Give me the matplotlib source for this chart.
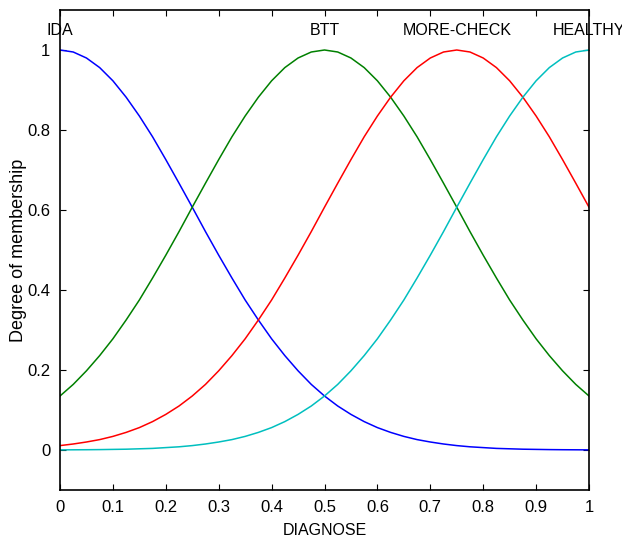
import matplotlib
matplotlib.use("Agg")
import matplotlib.pyplot as plt
import numpy as np

plt.rcParams['font.family'] = ['Liberation Sans', 'DejaVu Sans']

x = np.linspace(0, 1, 41)

ida = [1, .995, .980, .956, .923, .882, .835, .783, .726, .667, .607, .546, .487, .430, .375, .325,
       .278, .236, .198, .164, .135, .110, .089, .071, .056, .044, .034, .026, .020, .015, .011, .008,
       .006, .004, .003, .002, .0015, .001, .0007, .0005, .0003]
btt = [.135, .164, .198, .236, .278, .325, .375, .430, .487, .546, .607, .667, .726, .783, .835, .882,
       .923, .956, .980, .995, 1, .995, .980, .956, .923, .882, .835, .783, .726, .667, .607, .546,
       .487, .430, .375, .325, .278, .236, .198, .164, .135]
more_check = [.011, .015, .020, .026, .034, .044, .056, .071, .089, .110, .135, .164, .198, .236, .278,
              .325, .375, .430, .487, .546, .607, .667, .726, .783, .835, .882, .923, .956, .980, .995,
              1, .995, .980, .956, .923, .882, .835, .783, .726, .667, .607]
healthy = ida[::-1]

names = ["IDA", "BTT", "MORE-CHECK", "HEALTHY"]
peaks = [0, 0.5, 0.75, 1.0]
series = [ida, btt, more_check, healthy]
colors = ["#0000ff", "#008000", "#ff0000", "#00bfbf"]

fig = plt.figure(figsize=(6.22, 5.40), dpi=100)
ax = fig.add_axes([60/622, 50/540, 529/622, 480/540])

for s, c in zip(series, colors):
    ax.plot(x, s, color=c, lw=1.1)

for n, p in zip(names, peaks):
    ax.text(p, 1.048, n, ha='center', va='center', fontsize=11.5)

ax.set_xlim(0, 1)
ax.set_ylim(-0.1, 1.1)
ax.set_xticks(np.arange(0, 1.01, 0.1))
ax.set_xticklabels(["0", "0.1", "0.2", "0.3", "0.4", "0.5", "0.6", "0.7", "0.8", "0.9", "1"])
ax.set_yticks([0, 0.2, 0.4, 0.6, 0.8, 1.0])
ax.set_yticklabels(["0", "0.2", "0.4", "0.6", "0.8", "1"])
ax.tick_params(direction='in', top=True, right=True, labelsize=12, length=4, pad=7)
for sp in ax.spines.values():
    sp.set_linewidth(1.2)
ax.set_xlabel("DIAGNOSE", fontsize=11.5, labelpad=6)
ax.set_ylabel("Degree of membership", fontsize=13, labelpad=0)

fig.savefig("out.png", dpi=100)
